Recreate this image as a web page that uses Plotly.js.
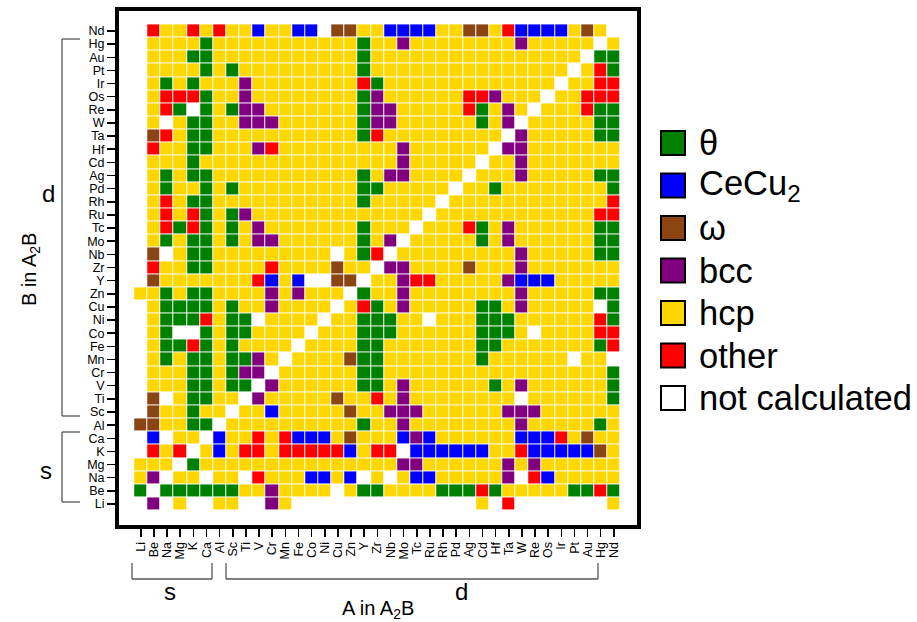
<!DOCTYPE html>
<html>
<head>
<meta charset="utf-8">
<script src="https://cdn.plot.ly/plotly-3.0.1.min.js"></script>
<style>
  html, body { margin: 0; padding: 0; background: #ffffff; }
  #chart { width: 917px; height: 622px; }
</style>
</head>
<body>
<div id="chart"></div>
<script>
// Elements, in axis order (A along x, B along y, bottom to top)
const elements = ["Li","Be","Na","Mg","K","Ca","Al","Sc","Ti","V","Cr","Mn","Fe","Co","Ni","Cu","Zn","Y","Zr","Nb","Mo","Tc","Ru","Rh","Pd","Ag","Cd","Hf","Ta","W","Re","Os","Ir","Pt","Au","Hg","Nd"];

// Phase legend: code letter, label, colour
const phaseKeys   = ["G", "B", "O", "P", "Y", "R", "N"];
const phaseLabels = ["θ", "CeCu<sub>2</sub>", "ω", "bcc", "hcp", "other", "not calculated"];
const phaseColors = ["#008000", "#0000ff", "#8b4513", "#800080", "#ffd700", "#ff0000", "#ffffff"];

// Lowest-energy A2B phase for each B element; one letter per A element (Li ... Nd)
// G = θ, B = CeCu2, O = ω, P = bcc, Y = hcp, R = other, N = not calculated
const B_Li = "N P N Y N N Y Y N N P Y N N N N N N N N N N N N N N Y N R N N N N N N N Y";
const B_Be = "G N G G G G G G Y Y P Y Y Y Y N Y G G Y Y Y Y G G G R G Y Y Y Y Y G G R G";
const B_Na = "Y P N Y Y N Y Y N R Y Y Y B B Y B N Y N Y B B Y Y Y Y Y P N R B Y Y Y Y Y";
const B_Mg = "Y Y Y N G Y Y Y Y Y Y Y Y Y Y Y Y Y Y Y P P Y Y Y Y Y Y P Y P Y Y Y Y Y Y";
const B_K  = "N R Y R N Y B Y R R Y R R R R R B Y R R N B B B B B B Y Y R B B B B B O Y";
const B_Ca = "N B N Y Y N B Y Y R Y R B B B Y O Y Y Y B P B Y Y Y Y Y Y B B B R Y O Y Y";
const B_Al = "O O Y Y G G N Y Y Y Y Y Y Y Y Y Y G Y Y P Y Y Y Y Y Y Y Y P Y Y Y Y Y G Y";
const B_Sc = "N O Y Y G Y Y N Y Y B Y Y Y Y Y O Y Y P P P Y Y Y Y Y Y P P P Y Y Y Y Y Y";
const B_Ti = "N O N Y G G Y Y N P Y Y Y Y Y O Y Y R Y P Y Y Y Y Y Y Y Y N Y Y Y Y Y Y G";
const B_V  = "N Y Y Y G G Y G G N P Y Y Y Y Y Y G G Y P Y Y Y Y Y Y G Y P Y Y Y Y Y Y G";
const B_Cr = "N Y Y Y G G Y G P P N Y Y Y Y Y Y G G Y Y Y Y Y Y Y Y Y Y Y Y Y Y Y Y Y G";
const B_Mn = "N Y G Y G G Y G G P Y N Y Y Y Y O G G Y Y Y Y Y Y Y G Y Y Y Y Y Y N Y Y N";
const B_Fe = "N Y G G R G Y G Y Y Y Y N Y Y Y Y G G Y Y Y Y Y Y Y G G Y Y Y Y Y Y Y G R";
const B_Co = "N Y G N N G Y G G Y Y Y Y N Y Y Y G G G Y Y Y Y Y Y G G G Y N Y Y Y Y R R";
const B_Ni = "N Y G G G R Y G G N Y Y Y Y N Y Y G G G Y Y N Y Y Y G G G Y Y Y Y Y Y R G";
const B_Cu = "N Y G G G G Y G Y Y P Y Y Y Y N Y R G Y P Y Y Y Y Y G G Y P Y Y Y Y Y N G";
const B_Zn = "Y Y G Y G G Y Y Y Y P Y P Y Y Y N G Y Y P Y Y Y Y Y Y Y Y P Y Y Y Y Y G G";
const B_Y  = "N O Y Y Y Y Y Y Y R B Y B N N O O N Y Y P R R Y Y Y Y Y P B B B Y Y Y Y Y";
const B_Zr = "N R Y Y G G Y Y Y Y R Y Y Y Y O Y Y N P P Y Y Y Y O Y Y Y P Y Y Y Y Y Y Y";
const B_Nb = "N O N Y G G Y Y Y Y Y Y Y Y Y N Y G R N Y Y Y Y Y Y Y Y Y P Y Y Y Y Y G G";
const B_Mo = "N Y G Y G G Y G Y P P Y Y Y Y Y Y G Y P N Y Y Y Y Y G Y P Y Y Y Y Y Y G G";
const B_Tc = "N Y R G R G Y G Y P Y Y Y Y Y Y Y G Y Y Y N Y Y Y R G Y P Y Y Y Y Y Y G G";
const B_Ru = "N Y R Y R G Y G P Y Y Y Y Y Y Y Y Y Y Y Y Y N Y Y Y Y Y Y Y Y Y Y Y Y R R";
const B_Rh = "N Y R Y G G Y Y Y Y Y Y Y Y Y Y Y G Y Y Y Y Y N Y Y Y Y Y Y Y Y Y Y Y Y R";
const B_Pd = "N Y G Y Y G Y G Y Y Y Y Y Y Y Y Y G G Y Y Y Y Y N Y Y G Y Y Y Y Y Y Y Y G";
const B_Ag = "N Y G Y G G Y Y Y Y Y Y Y Y Y Y Y G Y P P Y Y Y Y N Y Y Y P Y Y Y Y Y G G";
const B_Cd = "N Y Y Y G Y Y Y Y Y Y Y Y Y Y Y Y Y Y Y P Y Y Y Y Y N Y Y P Y Y Y Y Y Y Y";
const B_Hf = "N R Y Y G G Y Y Y P R Y Y Y Y Y Y Y Y Y P Y Y Y Y Y Y N P P Y Y Y Y Y Y Y";
const B_Ta = "N O R Y G G Y Y Y Y Y Y Y Y Y Y Y G R Y Y Y Y Y Y Y Y Y N P Y Y Y Y Y G G";
const B_W  = "N Y N Y G G Y Y P P P Y Y Y Y Y Y G P P Y Y Y Y Y Y G Y P N Y Y Y Y Y G G";
const B_Re = "N Y R G N G Y G P P Y Y Y Y Y Y Y G P P Y Y Y Y Y R G Y P Y N Y Y Y R G G";
const B_Os = "N Y R R R G Y Y P Y Y Y Y Y Y Y Y G P Y Y Y Y Y Y R R P Y Y Y N Y Y R R R";
const B_Ir = "N Y G Y G Y Y Y P Y Y Y Y Y Y Y Y R G Y Y Y Y Y Y Y Y Y Y Y Y Y N Y Y R R";
const B_Pt = "N Y Y Y Y G Y G Y Y Y Y Y Y Y Y Y G Y Y Y Y Y Y Y Y Y Y Y Y Y Y Y N Y R G";
const B_Au = "N Y Y Y G G Y Y Y Y Y Y Y Y Y Y Y G Y Y Y Y Y Y Y Y Y Y Y Y Y Y Y Y N G G";
const B_Hg = "N Y Y Y Y G Y Y Y Y Y Y Y Y Y Y Y G Y Y P Y Y Y Y Y Y Y Y P Y Y Y Y Y N Y";
const B_Nd = "N R Y Y R Y R Y Y B Y Y B B N O O Y Y B B B B Y Y O O Y R B B B B Y O Y N";

const phaseRows = [B_Li, B_Be, B_Na, B_Mg, B_K, B_Ca, B_Al, B_Sc, B_Ti, B_V, B_Cr, B_Mn,
  B_Fe, B_Co, B_Ni, B_Cu, B_Zn, B_Y, B_Zr, B_Nb, B_Mo, B_Tc, B_Ru, B_Rh, B_Pd, B_Ag,
  B_Cd, B_Hf, B_Ta, B_W, B_Re, B_Os, B_Ir, B_Pt, B_Au, B_Hg, B_Nd];

// letters -> integer codes for the heatmap
const z = phaseRows.map(r => r.trim().split(/\s+/).map(c => phaseKeys.indexOf(c)));
const hoverText = phaseRows.map((r, i) => r.trim().split(/\s+/).map((c, j) =>
  elements[j] + "<sub>2</sub>" + elements[i] + ": " + phaseLabels[phaseKeys.indexOf(c)]));

// stepped colour scale, one band per phase
const n = phaseKeys.length;
const colorscale = [];
phaseColors.forEach((c, k) => { colorscale.push([k / n, c]); colorscale.push([(k + 1) / n, c]); });

// page geometry (plot area in pixels)
const L = 119, T = 11, PW = 518, PH = 514;
const px = x => (x - L) / PW;
const py = y => 1 - (y - T) / PH;

const FONT = "Liberation Sans, Arial, Helvetica, sans-serif";
const shapes = [];
const annotations = [];
const lineStyle = { color: "#555555", width: 1.3 };

function bracketV(x, xTick, yTop, yBot) {
  shapes.push({ type: "line", xref: "paper", yref: "paper", x0: px(xTick), x1: px(x), y0: py(yTop), y1: py(yTop), line: lineStyle });
  shapes.push({ type: "line", xref: "paper", yref: "paper", x0: px(x), x1: px(x), y0: py(yTop), y1: py(yBot), line: lineStyle });
  shapes.push({ type: "line", xref: "paper", yref: "paper", x0: px(x), x1: px(xTick), y0: py(yBot), y1: py(yBot), line: lineStyle });
}
function bracketH(y, yTick, xL, xR) {
  shapes.push({ type: "line", xref: "paper", yref: "paper", x0: px(xL), x1: px(xL), y0: py(yTick), y1: py(y), line: lineStyle });
  shapes.push({ type: "line", xref: "paper", yref: "paper", x0: px(xL), x1: px(xR), y0: py(y), y1: py(y), line: lineStyle });
  shapes.push({ type: "line", xref: "paper", yref: "paper", x0: px(xR), x1: px(xR), y0: py(y), y1: py(yTick), line: lineStyle });
}
function label(text, x, y, size, angle) {
  annotations.push({ text: text, xref: "paper", yref: "paper", x: px(x), y: py(y),
    xanchor: "center", yanchor: "middle", showarrow: false, textangle: angle || 0,
    font: { family: FONT, size: size, color: "#000000" } });
}

// group brackets on the B axis
bracketV(62, 80, 39, 416);
bracketV(62, 80, 432, 502);
label("d", 48, 193, 24);
label("s", 46, 470, 24);
label("B in A<sub>2</sub>B", 30, 270, 20, -90);

// group brackets on the A axis
bracketH(579, 563, 132, 212);
bracketH(579, 563, 226, 598);
label("s", 170, 591, 24);
label("d", 461, 591, 24);
label("A in A<sub>2</sub>B", 378, 609, 20);

// legend
phaseLabels.forEach((lab, k) => {
  const top = 131 + 42.5 * k;
  shapes.push({ type: "rect", xref: "paper", yref: "paper",
    x0: px(661), x1: px(685), y0: py(top), y1: py(top + 24),
    fillcolor: phaseColors[k], line: { color: "#000000", width: 2 } });
  annotations.push({ text: lab, xref: "paper", yref: "paper", x: px(697), y: py(top + 12),
    xanchor: "left", yanchor: "middle", showarrow: false,
    font: { family: FONT, size: 34.5, color: "#000000" } });
});

const trace = {
  type: "heatmap",
  x: elements,
  y: elements,
  z: z,
  text: hoverText,
  hoverinfo: "text",
  zmin: -0.5,
  zmax: n - 0.5,
  colorscale: colorscale,
  showscale: false,
  xgap: 1,
  ygap: 1
};

const axisCommon = {
  type: "category",
  showgrid: false,
  zeroline: false,
  showline: true,
  linecolor: "#000000",
  linewidth: 4,
  mirror: true,
  ticks: "outside",
  ticklen: 8,
  tickwidth: 1.5,
  tickcolor: "#000000",
  tickmode: "linear",
  tick0: 0,
  dtick: 1,
  tickfont: { family: FONT, size: 12.5, color: "#000000" }
};

const layout = {
  width: 917,
  height: 622,
  margin: { l: L, t: T, r: 917 - L - PW, b: 622 - T - PH, pad: 0 },
  paper_bgcolor: "#ffffff",
  plot_bgcolor: "#ffffff",
  showlegend: false,
  xaxis: Object.assign({}, axisCommon, { range: [-1.66, 37.76], tickangle: -90 }),
  yaxis: Object.assign({}, axisCommon, { range: [-1.6, 37.52] }),
  shapes: shapes,
  annotations: annotations
};

Plotly.newPlot("chart", [trace], layout, { displayModeBar: false, staticPlot: true });
</script>
</body>
</html>
